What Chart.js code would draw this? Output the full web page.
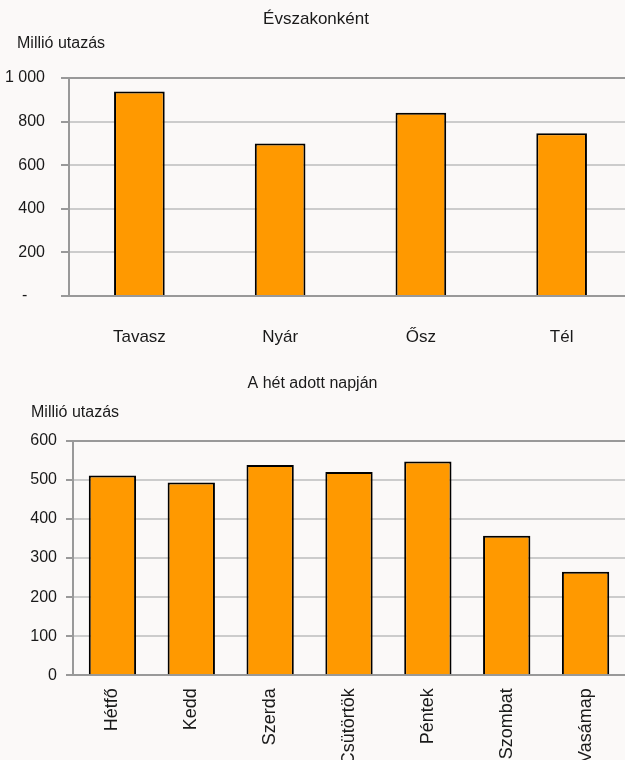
<!DOCTYPE html>
<html>
<head>
<meta charset="utf-8">
<script src="https://cdn.jsdelivr.net/npm/chart.js@4.4.1/dist/chart.umd.min.js"></script>
<style>
  html, body { margin: 0; padding: 0; background: #fbf9f8; overflow: hidden; width: 625px; height: 760px; }
  #top { position: absolute; left: 0; top: 0; }
  #bottom { position: absolute; left: 0; top: 360px; }
</style>
</head>
<body>
<canvas id="top" width="632" height="360"></canvas>
<canvas id="bottom" width="625" height="400"></canvas>
<script>
// Adatok – évszakonként
const evszakok = ['Tavasz', 'Nyár', 'Ősz', 'Tél'];
const evszakErtekek = [938, 699, 841, 747];
const evszakTickek = ['-    ', '200', '400', '600', '800', '1 000'];

// Adatok – a hét napjai
const napok = ['Hétfő', 'Kedd', 'Szerda', 'Csütörtök', 'Péntek', 'Szombat', 'Vasámap'];
const napErtekek = [511, 493, 538, 520, 547, 357, 265];
const napTickek = ['0', '100', '200', '300', '400', '500', '600'];

const NARANCS = '#ff9900';
const SZOVEG = '#1a1a1a';
const TENGELY = '#999999';
const RACS = '#cccccc';
const tickFont = { family: "'Liberation Sans', Arial", size: 16 };

// egyszerű plugin a "Millió utazás" felirathoz
const egysegFelirat = {
  id: 'egysegFelirat',
  afterDraw(chart, args, opts) {
    const ctx = chart.ctx;
    ctx.save();
    ctx.font = opts.font;
    ctx.fillStyle = SZOVEG;
    ctx.textBaseline = 'middle';
    ctx.textAlign = 'left';
    ctx.fillText(opts.text, opts.x, opts.y);
    ctx.restore();
  }
};

function racsSzin(max) {
  return (c) => (c.tick && (c.tick.value === max || c.tick.value === 0)) ? TENGELY : RACS;
}

new Chart(document.getElementById('top'), {
  type: 'bar',
  data: {
    labels: evszakok,
    datasets: [{
      data: evszakErtekek,
      backgroundColor: NARANCS,
      borderColor: '#000',
      borderWidth: 2,
      categoryPercentage: 1,
      barPercentage: 0.36
    }]
  },
  options: {
    responsive: false,
    animation: false,
    events: [],
    layout: { padding: 0 },
    plugins: {
      legend: { display: false },
      tooltip: { enabled: false },
      title: {
        display: true,
        text: 'Évszakonként',
        color: SZOVEG,
        font: { family: "'Liberation Sans', Arial", size: 17, weight: 'normal' },
        padding: { top: 9, bottom: 48.6 }
      },
      egysegFelirat: { text: 'Millió utazás', x: 17, y: 44, font: "16px 'Liberation Sans', Arial" }
    },
    scales: {
      x: {
        grid: { display: false },
        border: { display: true, color: TENGELY, width: 2 },
        ticks: {
          color: SZOVEG,
          font: { family: "'Liberation Sans', Arial", size: 17 },
          padding: 23,
          maxRotation: 0
        },
        afterFit: (s) => { s.height = 64; }
      },
      y: {
        min: 0,
        max: 1000,
        grid: { color: racsSzin(1000), tickColor: TENGELY, lineWidth: 2, tickLength: 8 },
        border: { display: true, color: TENGELY, width: 2 },
        ticks: {
          stepSize: 200,
          color: SZOVEG,
          font: tickFont,
          padding: 16,
          callback: (v, i) => evszakTickek[i]
        },
        afterFit: (s) => { s.width = 69; }
      }
    }
  },
  plugins: [egysegFelirat]
});

new Chart(document.getElementById('bottom'), {
  type: 'bar',
  data: {
    labels: napok,
    datasets: [{
      data: napErtekek,
      backgroundColor: NARANCS,
      borderColor: '#000',
      borderWidth: 2,
      categoryPercentage: 1,
      barPercentage: 0.6
    }]
  },
  options: {
    responsive: false,
    animation: false,
    events: [],
    layout: { padding: 0 },
    plugins: {
      legend: { display: false },
      tooltip: { enabled: false },
      title: {
        display: true,
        text: 'A hét adott napján',
        color: SZOVEG,
        font: { family: "'Liberation Sans', Arial", size: 16, weight: 'normal' },
        padding: { top: 14.4, bottom: 47.1 }
      },
      egysegFelirat: { text: 'Millió utazás', x: 31, y: 53, font: "16px 'Liberation Sans', Arial" }
    },
    scales: {
      x: {
        grid: { display: false },
        border: { display: true, color: TENGELY, width: 2 },
        ticks: {
          color: SZOVEG,
          font: { family: "'Liberation Sans', Arial", size: 18 },
          padding: 5,
          minRotation: 90,
          maxRotation: 90,
          autoSkip: false
        },
        afterFit: (s) => { s.height = 84.7; }
      },
      y: {
        min: 0,
        max: 600,
        grid: { color: racsSzin(600), tickColor: TENGELY, lineWidth: 2, tickLength: 7 },
        border: { display: true, color: TENGELY, width: 2 },
        ticks: {
          stepSize: 100,
          color: SZOVEG,
          font: tickFont,
          padding: 9,
          callback: (v, i) => napTickek[i]
        },
        afterFit: (s) => { s.width = 73; }
      }
    }
  },
  plugins: [egysegFelirat]
});
</script>
</body>
</html>
